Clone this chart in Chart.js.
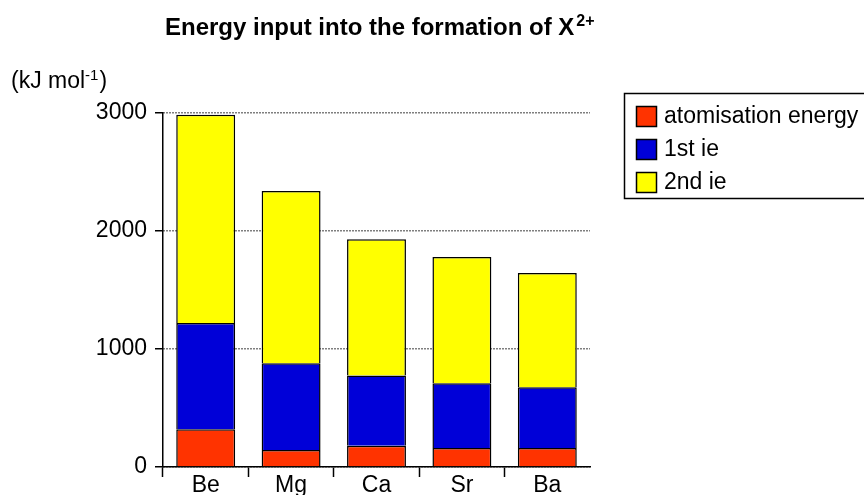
<!DOCTYPE html>
<html>
<head>
<meta charset="utf-8">
<script src="https://cdn.jsdelivr.net/npm/chart.js@4/dist/chart.umd.min.js"></script>
<style>
  html, body { margin: 0; padding: 0; background: #fff; }
  #wrap { position: relative; width: 864px; height: 495px; }
  canvas { display: block; }
</style>
</head>
<body>
<div id="wrap"><canvas id="c" width="864" height="495"></canvas></div>
<script>
// ---- data ----
const categories = ['Be', 'Mg', 'Ca', 'Sr', 'Ba'];
const atomisationEnergy = [320, 145, 180, 160, 160];
const firstIE = [900, 735, 595, 550, 515];
const secondIE = [1765, 1460, 1155, 1070, 970];
const seriesNames = ['atomisation energy', '1st ie', '2nd ie'];
const seriesColors = ['#ff3300', '#0000d8', '#ffff00'];
const yTickValues = [0, 1000, 2000, 3000];
const titleMain = 'Energy input into the formation of X';
const titleSup = '2+';
const unitMain = '(kJ mol';
const unitSup = '-1';
const unitEnd = ')';

const FONT = '"Liberation Sans", Arial, Helvetica, sans-serif';
Chart.defaults.font.family = FONT;
Chart.defaults.color = '#000';

const textPlugin = {
  id: 'textPlugin',
  afterDraw(chart) {
    const ctx = chart.ctx;
    ctx.save();
    ctx.fillStyle = '#000';
    ctx.textBaseline = 'alphabetic';
    ctx.textAlign = 'left';
    // title
    ctx.font = 'bold 24px ' + FONT;
    const tx = 165, ty = 35;
    ctx.fillText(titleMain, tx, ty);
    const tw = ctx.measureText(titleMain).width;
    ctx.font = 'bold 16px ' + FONT;
    ctx.fillText(titleSup, tx + tw + 2, ty - 9);
    // unit label
    ctx.font = '23px ' + FONT;
    const ux = 11, uy = 88;
    ctx.fillText(unitMain, ux, uy);
    let w = ctx.measureText(unitMain).width;
    ctx.font = '15px ' + FONT;
    ctx.fillText(unitSup, ux + w, uy - 8);
    w += ctx.measureText(unitSup).width;
    ctx.font = '23px ' + FONT;
    ctx.fillText(unitEnd, ux + w + 1, uy);
    // legend box
    ctx.lineWidth = 1.5;
    ctx.strokeStyle = '#000';
    ctx.strokeRect(624.5, 93.5, 300, 105);
    chart.data.datasets.forEach((ds, i) => {
      const sy = 106 + i * 33;
      ctx.fillStyle = ds.backgroundColor;
      ctx.fillRect(636, sy, 21, 21);
      ctx.strokeRect(636.5, sy + 0.5, 20, 20);
      ctx.fillStyle = '#000';
      ctx.font = '23px ' + FONT;
      ctx.textBaseline = 'middle';
      ctx.fillText(ds.label, 664, sy + 11);
    });
    ctx.restore();
  }
};

const seriesData = [atomisationEnergy, firstIE, secondIE];

new Chart(document.getElementById('c'), {
  type: 'bar',
  data: {
    labels: categories,
    datasets: seriesNames.map((name, i) => ({
      label: name,
      data: seriesData[i],
      backgroundColor: seriesColors[i],
      borderColor: '#000',
      borderWidth: 1.5,
      categoryPercentage: 1.0,
      barPercentage: 0.69
    }))
  },
  options: {
    responsive: false,
    animation: false,
    devicePixelRatio: 1,
    layout: { padding: { top: 113, left: 0, right: 274, bottom: 0 } },
    plugins: {
      legend: { display: false },
      title: { display: false },
      tooltip: { enabled: false }
    },
    scales: {
      x: {
        stacked: true,
        offset: true,
        afterFit: s => { s.height = 28; },
        grid: {
          offset: true,
          drawOnChartArea: false,
          drawTicks: true,
          tickLength: 10,
          tickWidth: 1.5,
          color: '#000',
          tickColor: ctx => ctx.type === 'tick' ? '#000' : 'rgba(0,0,0,0)'
        },
        border: { display: true, color: '#000', width: 1.5 },
        ticks: { color: '#000', padding: -3, font: { size: 23, lineHeight: 1 } }
      },
      y: {
        stacked: true,
        min: 0,
        max: 3000,
        afterFit: s => { s.width = 163; },
        afterBuildTicks: s => { s.ticks = yTickValues.map(v => ({ value: v })); },
        grid: {
          color: '#000',
          lineWidth: 1.5,
          drawTicks: true,
          tickLength: 8,
          tickWidth: 1.5,
          tickColor: '#000',
          tickBorderDash: []
        },
        border: { display: true, color: '#000', width: 1.5, dash: [1, 2] },
        ticks: {
          color: '#000',
          padding: 8,
          font: { size: 23 },
          callback: v => String(v)
        }
      }
    }
  },
  plugins: [textPlugin]
});
</script>
</body>
</html>
